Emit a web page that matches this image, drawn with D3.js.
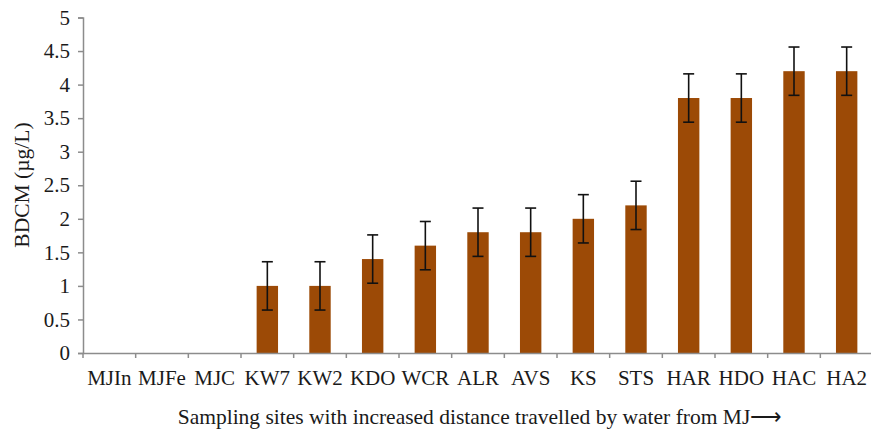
<!DOCTYPE html>
<html><head><meta charset="utf-8">
<script src="https://cdn.jsdelivr.net/npm/d3@7"></script>
<style>body{margin:0;background:#fff}svg{display:block}</style>
</head><body>
<svg id="c" width="871" height="430"></svg>
<script>
const categories = ["MJIn","MJFe","MJC","KW7","KW2","KDO","WCR","ALR","AVS","KS","STS","HAR","HDO","HAC","HA2"];
const values = [0,0,0,1,1,1.4,1.6,1.8,1.8,2,2.2,3.8,3.8,4.2,4.2];
const errors = [0,0,0,0.36,0.36,0.36,0.36,0.36,0.36,0.36,0.36,0.36,0.36,0.36,0.36];
const yTicks = [0,0.5,1,1.5,2,2.5,3,3.5,4,4.5,5];
const yTitle = "BDCM (µg/L)";
const xTitle = "Sampling sites with increased distance travelled by water from MJ⟶";

const svg = d3.select("#c");
const font = "'Liberation Serif','Times New Roman',serif";
const xb = d3.scaleBand().domain(categories).range([83, 873]);
const y = d3.scaleLinear().domain([0,5]).range([353, 17.5]);
const axisColor = "#8c8c8c";

// bars
const data = categories.map((c,i)=>({c, v: values[i], e: errors[i]}));
svg.append("g").selectAll("rect").data(data.filter(d=>d.v>0)).join("rect")
  .attr("x", d=>xb(d.c) + xb.bandwidth()/2 - 10.7)
  .attr("width", 21.4)
  .attr("y", d=>y(d.v))
  .attr("height", d=>y(0)-y(d.v))
  .attr("fill", "#9c4a06");

// error bars
const eg = svg.append("g").attr("stroke","#111").attr("stroke-width",1.6);
data.filter(d=>d.v>0).forEach(d=>{
  const cx = xb(d.c) + xb.bandwidth()/2;
  eg.append("line").attr("x1",cx).attr("x2",cx).attr("y1",y(d.v+d.e)).attr("y2",y(d.v-d.e));
  eg.append("line").attr("x1",cx-5.5).attr("x2",cx+5.5).attr("y1",y(d.v+d.e)).attr("y2",y(d.v+d.e));
  eg.append("line").attr("x1",cx-5.5).attr("x2",cx+5.5).attr("y1",y(d.v-d.e)).attr("y2",y(d.v-d.e));
});

// y axis
const ya = svg.append("g").attr("transform","translate(83,0)")
  .call(d3.axisLeft(y).tickValues(yTicks).tickFormat(d3.format("")).tickSize(5).tickPadding(8));
ya.select(".domain").attr("stroke",axisColor).attr("stroke-width",1.5);
ya.selectAll(".tick line").attr("stroke",axisColor).attr("stroke-width",1.5);
ya.selectAll("text").attr("font-family",font).attr("font-size",21).attr("fill","#1a1a1a");

// x axis
const xa = svg.append("g").attr("transform","translate(0,353)")
  .call(d3.axisBottom(xb).tickSize(0).tickPadding(17));
xa.select(".domain").attr("stroke",axisColor).attr("stroke-width",1.5);
xa.selectAll(".tick line").remove();
xa.selectAll("text").attr("font-family",font).attr("font-size",21).attr("fill","#1a1a1a");
// band boundary ticks
svg.append("g").selectAll("line").data(categories).join("line")
  .attr("x1", d=>xb(d)).attr("x2", d=>xb(d)).attr("y1",353).attr("y2",358)
  .attr("stroke",axisColor).attr("stroke-width",1.5);

// titles
svg.append("text").attr("x",480).attr("y",424).attr("text-anchor","middle")
  .attr("font-family",font).attr("font-size",21.5).attr("fill","#1a1a1a").text(xTitle);
svg.append("text").attr("transform","translate(28.5,185) rotate(-90)").attr("text-anchor","middle")
  .attr("font-family",font).attr("font-size",21.5).attr("fill","#1a1a1a").text(yTitle);
</script>
</body></html>
